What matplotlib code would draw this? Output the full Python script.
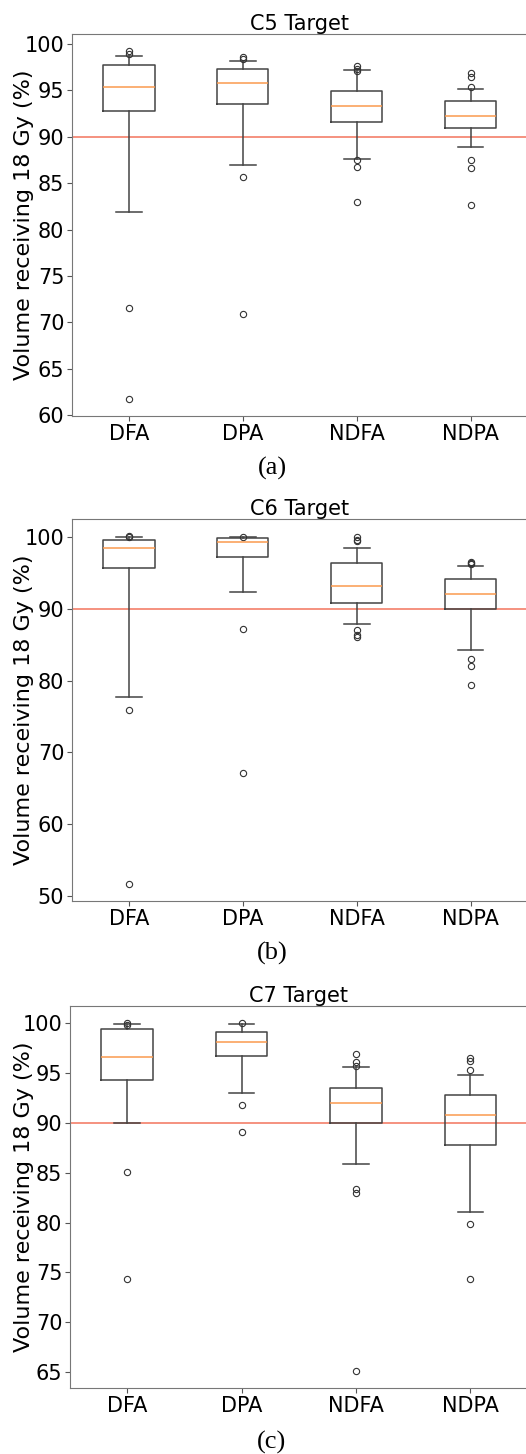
from matplotlib import pyplot as plt

groups = ['DFA', 'DPA', 'NDFA', 'NDPA']
titles = ['C5 Target', 'C6 Target', 'C7 Target']
captions = ['(a)', '(b)', '(c)']
threshold = 90

# box stats per panel: [DFA, DPA, NDFA, NDPA]
c5_med = [95.4, 95.75, 93.3, 92.2]
c5_q1 = [92.8, 93.55, 91.6, 90.9]
c5_q3 = [97.7, 97.3, 94.95, 93.9]
c5_lo = [81.9, 87.0, 87.65, 88.9]
c5_hi = [98.75, 98.15, 97.15, 95.15]
c5_fliers = [[99.2, 98.9, 71.55, 61.8],
             [98.55, 98.35, 85.7, 70.9],
             [97.6, 97.25, 97.1, 87.5, 86.7, 83.0],
             [96.85, 96.45, 95.4, 87.45, 86.6, 82.7]]

c6_med = [98.45, 99.3, 93.15, 92.05]
c6_q1 = [95.6, 97.2, 90.85, 89.9]
c6_q3 = [99.55, 99.8, 96.35, 94.15]
c6_lo = [77.65, 92.3, 87.9, 84.3]
c6_hi = [100.0, 100.0, 98.45, 95.95]
c6_fliers = [[100.05, 99.9, 75.85, 51.75],
             [100.0, 87.1, 67.2],
             [100.0, 99.6, 99.35, 87.0, 86.4, 86.0],
             [96.5, 96.3, 96.2, 82.95, 82.05, 79.4]]

c7_med = [96.65, 98.1, 92.0, 90.8]
c7_q1 = [94.3, 96.75, 90.0, 87.8]
c7_q3 = [99.45, 99.15, 93.55, 92.85]
c7_lo = [90.0, 93.0, 85.9, 81.1]
c7_hi = [99.95, 99.9, 95.65, 94.8]
c7_fliers = [[100.0, 99.85, 85.05, 74.35],
             [100.0, 91.8, 89.05],
             [96.95, 96.15, 95.75, 83.4, 82.95, 65.15],
             [96.5, 96.2, 95.3, 79.9, 74.3]]

panels = [(c5_med, c5_q1, c5_q3, c5_lo, c5_hi, c5_fliers),
          (c6_med, c6_q1, c6_q3, c6_lo, c6_hi, c6_fliers),
          (c7_med, c7_q1, c7_q3, c7_lo, c7_hi, c7_fliers)]

W, H = 526, 1454
fig = plt.figure(figsize=(W / 100, H / 100), dpi=100)

# axes boxes in pixels: left, top, bottom
boxes_px = [(72, 34, 416), (72, 519, 901), (70, 1006, 1388)]
caption_y = [468, 953, 1442]

line_col = '#444444'
for i, (med, q1, q3, lo, hi, fl) in enumerate(panels):
    left, top, bottom = boxes_px[i]
    ax_w = 1.003 * W - left
    ax = fig.add_axes([left / W, 1 - bottom / H, ax_w / W, (bottom - top) / H])
    stats = []
    for j, g in enumerate(groups):
        stats.append(dict(label=g, med=med[j], q1=q1[j], q3=q3[j],
                          whislo=lo[j], whishi=hi[j], fliers=fl[j]))
    ax.bxp(stats, widths=0.45, positions=[1, 2, 3, 4],
           boxprops=dict(color=line_col, linewidth=1.1),
           whiskerprops=dict(color=line_col, linewidth=1.1),
           capprops=dict(color=line_col, linewidth=1.1),
           medianprops=dict(color='#fb9a4e', linewidth=1.1),
           flierprops=dict(marker='o', markerfacecolor='none',
                           markeredgecolor='#333333', markersize=4.5,
                           markeredgewidth=0.8))
    ax.axhline(threshold, color='#f47f6a', linewidth=1.2, zorder=0)
    ax.set_xlim(0.5, 4.5)
    ax.margins(y=0.05)
    ax.set_title(titles[i], fontsize=15, pad=3)
    ax.set_ylabel('Volume receiving 18 Gy (%)', fontsize=16)
    ax.yaxis.set_label_coords((34 - left) / ax_w, 0.5)
    ax.tick_params(labelsize=15, color='#555555', length=3.5, pad=2)
    for s in ax.spines.values():
        s.set_color('#777777')
    fig.text(272 / W, 1 - caption_y[i] / H, captions[i], ha='center', va='center',
             fontsize=19, family='Liberation Serif')

plt.savefig('out.png', dpi=100)
